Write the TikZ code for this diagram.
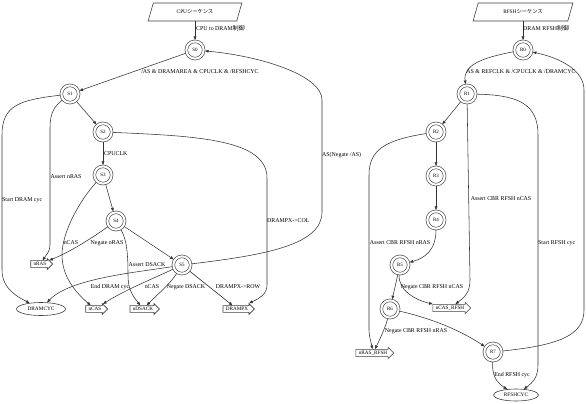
\documentclass[tikz,border=0pt]{standalone}
\usepackage{fontspec}
\setmainfont{Liberation Serif}
\newfontfamily\cjk{Noto Sans CJK JP}
\usetikzlibrary{arrows.meta,shapes.geometric,shapes.arrows}
\begin{document}
\begin{tikzpicture}[x=1pt,y=-1pt,
  every node/.style={font=\fontsize{5.9}{7}\selectfont},
  stnode/.style={circle,draw=black!75,line width=0.6pt,double=white,double distance=2.1pt,minimum size=17.3pt,inner sep=0pt,outer sep=1.35pt,font=\fontsize{5}{6}\selectfont},
  para/.style={trapezium,trapezium stretches=true,trapezium left angle=63,trapezium right angle=117,draw=black!75,line width=0.6pt,minimum height=18pt,inner sep=0pt,font=\fontsize{5.3}{6}\selectfont},
  sig/.style={single arrow,draw=black!75,line width=0.6pt,single arrow head extend=2pt,single arrow tip angle=90,inner xsep=2.6pt,inner ysep=1.3pt,font=\fontsize{5.2}{6}\selectfont},
  ell/.style={ellipse,draw=black!75,line width=0.6pt,inner sep=0pt,font=\fontsize{5.3}{6}\selectfont},
  conn/.style={draw=black!80,line width=0.55pt,-{Triangle[length=3.6pt,width=2.8pt]}},
  lbl/.style={inner sep=0pt}
]
\useasboundingbox (0,0) rectangle (586,404);
\fill[white] (0,0) rectangle (586,404);

% ---------- CPU sequence ----------
\node[para,minimum width=94pt] (cpu) at (195,12) {CPU{\cjk シーケンス}};
\node[stnode] (s0) at (195,50) {S0};
\node[stnode] (s1) at (70,94) {S1};
\node[stnode] (s2) at (103,132) {S2};
\node[stnode] (s3) at (103,175) {S3};
\node[stnode] (s4) at (116,221) {S4};
\node[stnode] (s5) at (182,265) {S5};
\node[sig] (nras) at (40,264) {nRAS};
\node[ell,minimum width=49pt,minimum height=13pt] (dramcyc) at (41,309) {DRAMCYC};
\node[sig] (ncas) at (95,309) {nCAS};
\node[sig] (ndsack) at (143,309) {nDSACK};
\node[sig] (drampx) at (237,309) {DRAMPX};

\draw[conn] (cpu) -- (s0);
\draw[conn] (s0) -- (s1);
\draw[conn] (s1) -- (s2);
\draw[conn] (s1) .. controls (20,100) and (2,105) .. (2,135) -- (2,270) .. controls (2,290) and (20,298) .. (dramcyc);
\draw[conn] (s1) .. controls (55,106) and (50,112) .. (50,128) -- (50,245) .. controls (50,251) and (47,254) .. (nras);
\draw[conn] (s2) -- (s3);
\draw[conn] (s2) .. controls (200,136) and (267,140) .. (267,178) -- (267,285) .. controls (267,294) and (260,298) .. (drampx);
\draw[conn] (s3) -- (s4);
\draw[conn] (s3) .. controls (80,200) and (62,232) .. (62,255) .. controls (62,276) and (75,292) .. (ncas);
\draw[conn] (s4) .. controls (92,238) and (70,252) .. (nras);
\draw[conn] (s4) .. controls (127,240) and (128,255) .. (128,275) .. controls (128,290) and (133,296) .. (ndsack);
\draw[conn] (s4) -- (s5);
\draw[conn] (s5) .. controls (265,255) and (322,245) .. (322,212) -- (322,100) .. controls (322,75) and (260,56) .. (s0);
\draw[conn] (s5) .. controls (140,272) and (70,278) .. (dramcyc);
\draw[conn] (s5) .. controls (150,280) and (125,290) .. (ncas);
\draw[conn] (s5) .. controls (170,284) and (160,292) .. (ndsack);
\draw[conn] (s5) -- (drampx);

\node[lbl,anchor=west] (l1) at (196,28) {CPU to DRAM{\cjk 制御}};
\node[lbl] (l2) at (200,72) {/AS \& DRAMAREA \& CPUCLK \& /RFSHCYC};
\node[lbl,anchor=west] (l3) at (2,200) {Start DRAM cyc};
\node[lbl] (l4) at (66,177) {Assert nRAS};
\node[lbl,anchor=west] (l5) at (104,154) {CPUCLK};
\node[lbl,anchor=west] (l6) at (267,221) {DRAMPX->COL};
\node[lbl] (l7) at (71,243) {nCAS};
\node[lbl] (l8) at (107,243) {Negate nRAS};
\node[lbl] (l9) at (147,265) {Assert DSACK};
\node[lbl,anchor=west] (l10) at (322,155) {AS(Negate /AS)};
\node[lbl] (l11) at (110,287) {End DRAM cyc};
\node[lbl] (l12) at (152,287) {nCAS};
\node[lbl] (l13) at (186,287) {Negate DSACK};
\node[lbl] (l14) at (238,287) {DRAMPX->ROW};

% ---------- RFSH sequence ----------
\node[para,minimum width=100pt] (rfsh) at (523,12) {RFSH{\cjk シーケンス}};
\node[stnode] (r0) at (523,50) {R0};
\node[stnode] (r1) at (467,94) {R1};
\node[stnode] (r2) at (436,132) {R2};
\node[stnode] (r3) at (436,176) {R3};
\node[stnode] (r4) at (436,220) {R4};
\node[stnode] (r5) at (400,265) {R5};
\node[stnode] (r6) at (390,309) {R6};
\node[stnode] (r7) at (493,352) {R7};
\node[sig] (nrasr) at (373,353) {nRAS\_RFSH};
\node[sig] (ncasr) at (450,308) {nCAS\_RFSH};
\node[ell,minimum width=45pt,minimum height=12pt] (rfshcyc) at (516,395) {RFSHCYC};

\draw[conn] (rfsh) -- (r0);
\draw[conn] (r0) .. controls (480,58) and (463,66) .. (r1);
\draw[conn] (r1) -- (r2);
\draw[conn] (r1) -- (470,280) .. controls (470,292) and (465,297) .. (ncasr);
\draw[conn] (r1) .. controls (520,95) and (538,105) .. (538,135) -- (538,365) .. controls (538,378) and (532,383) .. (rfshcyc);
\draw[conn] (r2) -- (r3);
\draw[conn] (r2) .. controls (385,140) and (369,150) .. (369,175) -- (369,330) .. controls (369,337) and (371,341) .. (nrasr);
\draw[conn] (r3) -- (r4);
\draw[conn] (r4) .. controls (436,250) and (425,258) .. (r5);
\draw[conn] (r5) -- (r6);
\draw[conn] (r5) .. controls (398,290) and (415,300) .. (ncasr);
\draw[conn] (r6) .. controls (386,325) and (382,335) .. (nrasr);
\draw[conn] (r6) .. controls (430,318) and (460,330) .. (r7);
\draw[conn] (r7) .. controls (560,345) and (584,335) .. (584,310) -- (584,90) .. controls (584,70) and (560,58) .. (r0);
\draw[conn] (r7) .. controls (492,375) and (496,382) .. (rfshcyc);

\node[lbl,anchor=west] (m1) at (523,28) {DRAM RFSH{\cjk 制御}};
\node[lbl] (m2) at (521,72) {AS \& REFCLK \& /CPUCLK \& /DRAMCYC};
\node[lbl] (m3) at (501,199) {Assert CBR RFSH nCAS};
\node[lbl,anchor=west] (m4) at (538,243) {Start RFSH cyc};
\node[lbl] (m5) at (400,243) {Assert CBR RFSH nRAS};
\node[lbl] (m6) at (432,287) {Negate CBR RFSH nCAS};
\node[lbl] (m7) at (416,331) {Negate CBR RFSH nRAS};
\node[lbl] (m8) at (512,375) {End RFSH cyc};
\end{tikzpicture}
\end{document}
